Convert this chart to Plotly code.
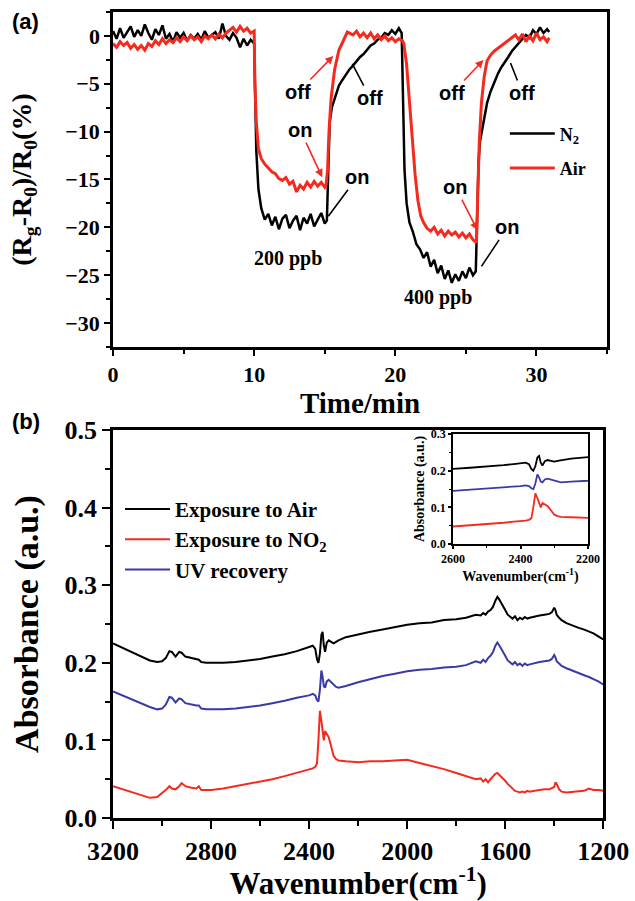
import plotly.graph_objects as go

# ---------------- (a) response vs time ----------------
n2_time = [0, 0.25, 0.5, 0.75, 1, 1.25, 1.5, 1.75, 2, 2.25, 2.5, 2.75, 3, 3.25, 3.5, 3.75, 4, 4.25, 4.5, 4.75,
           5, 5.25, 5.5, 5.75, 6, 6.25, 6.5, 6.75, 7, 7.25, 7.5, 7.75, 8, 8.25, 8.5, 8.75, 9, 9.25, 9.5, 9.75, 10,
           10.05, 10.15, 10.3, 10.5, 10.75, 11, 11.25, 11.5, 11.75, 12, 12.25, 12.5, 12.75, 13, 13.25, 13.5, 13.75,
           14, 14.25, 14.5, 14.75, 15, 15.15,
           15.25, 15.35, 15.5, 15.75, 16, 16.25, 16.5, 16.75, 17, 17.25, 17.5, 17.75, 18, 18.25, 18.5, 18.75, 19,
           19.25, 19.5, 19.75, 20, 20.25, 20.45,
           20.55, 20.65, 20.8, 21, 21.25, 21.5, 21.75, 22, 22.25, 22.5, 22.75, 23, 23.25, 23.5, 23.75, 24, 24.25,
           24.5, 24.75, 25, 25.25, 25.5, 25.7,
           25.8, 25.9, 26, 26.25, 26.5, 26.75, 27, 27.25, 27.5, 27.75, 28, 28.25, 28.5, 28.75, 29, 29.25, 29.5,
           29.75, 30, 30.25, 30.5, 30.75, 30.9]
n2_resp = [0.5, -0.3, 0.8, -0.2, 0.4, 1.0, -0.1, 0.6, 0.0, 1.2, 0.3, -0.4, 0.7, 0.1, 1.1, -0.3, 0.2, -0.6, 0.4, -0.2,
           0.3, -0.5, 0.1, -0.3, 0.2, -0.4, 0.5, -0.2, 0.1, 0.4, -0.3, 1.3, 0.0, -0.4, 0.3, -0.2, -1.2, -0.3, -1.0, -0.4, -0.8,
           -6, -12, -16, -18, -19.2, -18.6, -19.8, -18.9, -20.2, -19.1, -18.7, -20.1, -19.3, -18.8, -20.3, -19.0, -19.6,
           -18.6, -19.9, -19.2, -18.5, -19.6, -19.3,
           -14, -9, -7.5, -6.3, -5.2, -4.6, -4.0, -3.5, -3.1, -2.6, -2.2, -1.9, -1.5, -1.0, -0.8, -0.4, -0.2,
           0.3, 0.1, 0.6, 0.2, 0.8, 0.3,
           -8, -14, -17.5, -19.5, -20.5, -21.8, -22.3, -23.2, -22.6, -24.1, -23.4, -24.8, -24.0, -25.4, -24.5, -25.8, -24.9,
           -25.6, -24.6, -25.3, -24.2, -25.0, -24.6,
           -17, -13, -11, -9, -7, -5.8, -4.8, -4.0, -3.3, -2.8, -2.2, -1.6, -1.2, -0.8, -0.4, 0.1, -0.2,
           0.6, 0.2, 0.9, 0.3, 0.7, 0.4]

air_time = [0, 0.25, 0.5, 0.75, 1, 1.25, 1.5, 1.75, 2, 2.25, 2.5, 2.75, 3, 3.25, 3.5, 3.75, 4, 4.25, 4.5, 4.75,
            5, 5.25, 5.5, 5.75, 6, 6.25, 6.5, 6.75, 7, 7.25, 7.5, 7.75, 8, 8.25, 8.5, 8.75, 9, 9.25, 9.5, 9.75, 10,
            10.05, 10.15, 10.3, 10.5, 10.75, 11, 11.25, 11.5, 11.75, 12, 12.25, 12.5, 12.75, 13, 13.25, 13.5, 13.75,
            14, 14.25, 14.5, 14.75, 15, 15.1,
            15.2, 15.3, 15.45, 15.7, 16, 16.3, 16.6, 17, 17.25, 17.5, 17.75, 18, 18.25, 18.5, 18.75, 19, 19.25,
            19.5, 19.75, 20, 20.25, 20.5,
            20.6, 20.8, 21, 21.2, 21.4, 21.6, 21.8, 22, 22.25, 22.5, 22.75, 23, 23.25, 23.5, 23.75, 24, 24.25,
            24.5, 24.75, 25, 25.25, 25.5, 25.75,
            25.85, 25.95, 26.1, 26.3, 26.5, 26.75, 27, 27.25, 27.5, 27.75, 28, 28.25, 28.5, 28.75, 29, 29.25, 29.5,
            29.75, 30, 30.25, 30.5, 30.75, 30.9]
air_resp = [-0.8, -1.2, -0.6, -1.0, -0.7, -1.3, -0.9, -1.4, -1.0, -1.5, -0.8, -1.1, -0.5, -0.9, -0.3, -0.8, -0.4, -0.7, -0.2, -0.6,
            -0.1, -0.5, 0.0, -0.4, -0.1, -0.6, 0.0, -0.3, 0.1, -0.3, 0.2, -0.2, 0.3, 0.6, 0.9, 0.4, 1.0, 0.5, 0.8, 0.3, 0.5,
            -5, -9, -11.8, -12.8, -13.4, -13.8, -14.2, -14.4, -14.9, -15.1, -14.8, -15.5, -15.2, -16.3, -15.6, -16.0, -15.3,
            -15.8, -15.2, -15.7, -15.3, -15.8, -15.5,
            -14, -10, -6.5, -3.5, -1.5, -0.5, 0.4, 0.1, 0.5, -0.1, 0.3, -0.2, 0.3, -0.3, 0.1, -0.4, 0.0,
            -0.5, -0.2, -0.6, -0.3, -0.5,
            -0.8, -3, -7, -11, -14.5, -17.2, -18.8, -19.5, -20.1, -20.4, -20.0, -20.7, -20.3, -20.9, -20.4, -20.8, -20.5,
            -21.0, -20.6, -21.1, -20.7, -21.3, -21.6,
            -16, -11, -7, -4.2, -2.6, -2.0, -1.6, -1.3, -1.1, -0.8, -0.5, -0.2, 0.1, -0.4, 0.2, -0.6, 0.0,
            -0.5, 0.3, -0.4, -0.1, -0.6, -0.2]

# ---------------- (b) FTIR spectra ----------------
wavenumber = [3200, 3150, 3100, 3050, 3020, 3000, 2985, 2970, 2960, 2945,
              2930, 2920, 2905, 2880, 2860, 2850, 2840, 2820, 2800, 2750,
              2700, 2650, 2600, 2550, 2500, 2450, 2420, 2400, 2385, 2375,
              2368, 2362, 2356, 2350, 2345, 2340, 2335, 2328, 2320, 2310,
              2300, 2290, 2280, 2250, 2200, 2150, 2100, 2050, 2000, 1950,
              1900, 1850, 1800, 1760, 1740, 1720, 1700, 1690, 1680, 1670,
              1660, 1650, 1640, 1632, 1625, 1615, 1600, 1590, 1580, 1570,
              1560, 1550, 1540, 1530, 1520, 1510, 1500, 1480, 1460, 1440,
              1420, 1410, 1400, 1395, 1390, 1380, 1370, 1350, 1320, 1300,
              1280, 1270, 1260, 1250, 1240, 1220, 1200]
abs_air = [.225, .218, .210, .203, .201, .202, .206, .215, .214, .208,
           .214, .213, .208, .206, .205, .204, .201, .200, .200, .200,
           .201, .203, .205, .208, .211, .215, .218, .220, .222, .218,
           .205, .200, .212, .236, .240, .222, .214, .226, .229, .227,
           .225, .227, .229, .233, .237, .240, .243, .246, .249, .251,
           .252, .255, .256, .258, .260, .262, .261, .264, .262, .266,
           .268, .272, .280, .285, .282, .277, .268, .262, .259, .257,
           .260, .255, .258, .256, .259, .257, .258, .260, .261, .262,
           .263, .265, .271, .268, .262, .258, .255, .251, .247, .245,
           .243, .242, .241, .240, .238, .234, .230]
abs_no2 = [.041, .036, .030, .026, .027, .032, .036, .041, .038, .037,
           .041, .045, .041, .039, .038, .041, .036, .036, .036, .038,
           .041, .044, .047, .050, .054, .058, .061, .062, .064, .066,
           .070, .100, .138, .125, .110, .100, .112, .108, .104, .092,
           .080, .076, .074, .073, .072, .073, .073, .074, .075, .071,
           .067, .063, .058, .054, .053, .050, .051, .047, .050, .046,
           .050, .054, .057, .058, .056, .053, .048, .044, .041, .038,
           .035, .034, .033, .034, .033, .035, .034, .035, .036, .037,
           .037, .038, .040, .046, .044, .037, .034, .033, .034, .034,
           .035, .036, .038, .037, .036, .036, .035]
abs_uv = [.163, .156, .149, .143, .140, .141, .146, .156, .155, .149,
          .154, .153, .148, .146, .145, .145, .141, .140, .140, .140,
          .141, .143, .145, .148, .151, .155, .157, .158, .160, .158,
          .152, .150, .165, .190, .182, .170, .168, .176, .178, .175,
          .172, .169, .168, .170, .175, .179, .183, .186, .189, .191,
          .192, .194, .195, .197, .199, .202, .200, .204, .201, .206,
          .209, .214, .222, .226, .223, .218, .209, .203, .200, .198,
          .201, .197, .199, .196, .199, .197, .198, .200, .201, .202,
          .203, .205, .210, .207, .202, .199, .196, .193, .189, .186,
          .184, .183, .182, .180, .179, .176, .172]

RED = "#f52a1f"
BLUE = "#3a3aa6"
SERIF = "Liberation Serif"
SANS = "Liberation Sans"

fig = go.Figure()
fig.add_trace(go.Scatter(x=n2_time, y=n2_resp, mode="lines", name="N<sub>2</sub>",
                         line=dict(color="black", width=2.5), xaxis="x", yaxis="y",
                         legend="legend", legendgroup="n2"))
fig.add_trace(go.Scatter(x=air_time, y=air_resp, mode="lines", name="Air",
                         line=dict(color=RED, width=3), xaxis="x", yaxis="y",
                         legend="legend", legendgroup="air"))

series_b = [("Exposure to Air", abs_air, "black"),
            ("Exposure to NO<sub>2</sub>", abs_no2, RED),
            ("UV recovery", abs_uv, BLUE)]
for i, (nm, vals, col) in enumerate(series_b):
    fig.add_trace(go.Scatter(x=wavenumber, y=vals, mode="lines", name=nm,
                             line=dict(color=col, width=2), xaxis="x2", yaxis="y2",
                             legend="legend2", legendgroup="b%d" % i))
for nm, vals, col in series_b:
    fig.add_trace(go.Scatter(x=wavenumber, y=vals, mode="lines", name=nm, showlegend=False,
                             line=dict(color=col, width=1.8), xaxis="x3", yaxis="y3"))

def tf(size):
    return dict(family=SERIF, size=size, color="black", weight="bold")

common = dict(showline=True, linecolor="black", mirror=True, showgrid=False, zeroline=False,
              ticks="outside", tickcolor="black", automargin=False)

fig.update_layout(
    width=635, height=901, autosize=False,
    margin=dict(l=0, r=0, t=0, b=0),
    paper_bgcolor="white", plot_bgcolor="white",
    xaxis=dict(domain=[0.178, 0.956], anchor="y", range=[0, 35], tick0=0, dtick=10,
               ticklen=6, tickwidth=2, linewidth=2.5, tickfont=tf(22),
               minor=dict(dtick=5, ticks="outside", ticklen=4, tickwidth=2, tickcolor="black"),
               title=dict(text="Time/min", font=tf(29), standoff=6), **common),
    yaxis=dict(domain=[0.6149, 0.9867], anchor="x", range=[-32.5, 2.5], tick0=0, dtick=5,
               ticklen=6, tickwidth=2, linewidth=2.5, tickfont=tf(22),
               minor=dict(dtick=2.5, ticks="outside", ticklen=4, tickwidth=2, tickcolor="black"),
               title=dict(text="(R<sub>g</sub>-R<sub>0</sub>)/R<sub>0</sub>(%)", font=tf(28), standoff=26), **common),
    xaxis2=dict(domain=[0.178, 0.950], anchor="y2", range=[3200, 1200], tick0=1200, dtick=400,
                ticklen=8, tickwidth=2, linewidth=2.5, tickfont=tf(26),
                minor=dict(dtick=200, ticks="outside", ticklen=5, tickwidth=2, tickcolor="black"),
                title=dict(text="Wavenumber(cm<sup>-1</sup>)", font=tf(31), standoff=6), **common),
    yaxis2=dict(domain=[0.0921, 0.5228], anchor="x2", range=[0, 0.5], tick0=0, dtick=0.1, tickformat=".1f",
                ticklen=8, tickwidth=2, linewidth=2.5, tickfont=tf(26),
                minor=dict(dtick=0.05, ticks="outside", ticklen=5, tickwidth=2, tickcolor="black"),
                title=dict(text="Absorbance (a.u.)", font=tf(34), standoff=16), **common),
    xaxis3=dict(domain=[0.7134, 0.926], anchor="y3", range=[2600, 2200], tick0=2200, dtick=200,
                ticklen=3, tickwidth=1.5, linewidth=1.5, tickfont=tf(12),
                minor=dict(dtick=100, ticks="outside", ticklen=2, tickwidth=1, tickcolor="black"),
                title=dict(text="Wavenumber(cm<sup>-1</sup>)", font=tf(14), standoff=0), **common),
    yaxis3=dict(domain=[0.3962, 0.5183], anchor="x3", range=[0, 0.3], tick0=0, dtick=0.1, tickformat=".1f",
                ticklen=3, tickwidth=1.5, linewidth=1.5, tickfont=tf(12),
                minor=dict(dtick=0.05, ticks="outside", ticklen=2, tickwidth=1, tickcolor="black"),
                title=dict(text="Absorbance (a.u.)", font=tf(14), standoff=3), **common),
    legend=dict(x=0.795, y=0.872, xanchor="left", yanchor="top", bgcolor="rgba(0,0,0,0)",
                font=tf(18), tracegroupgap=8, itemwidth=45),
    legend2=dict(x=0.189, y=0.4575, xanchor="left", yanchor="top", bgcolor="rgba(0,0,0,0)",
                 font=tf(21), tracegroupgap=0, itemwidth=45),
)

ann = []
# panel labels
ann.append(dict(text="(a)", x=25/635, y=1-22/901, xref="paper", yref="paper", showarrow=False,
                xanchor="center", yanchor="middle",
                font=dict(family=SANS, size=22, color="black", weight="bold")))
ann.append(dict(text="(b)", x=26/635, y=1-421/901, xref="paper", yref="paper", showarrow=False,
                xanchor="center", yanchor="middle",
                font=dict(family=SANS, size=22, color="black", weight="bold")))
# concentration labels
ann.append(dict(text="200 ppb", x=12.41, y=-23.25, xref="x", yref="y", showarrow=False, font=tf(20)))
ann.append(dict(text="400 ppb", x=23.05, y=-27.33, xref="x", yref="y", showarrow=False, font=tf(20)))

# on/off labels with arrows: (text, label_x, label_y, tip_x, tip_y, colour)
onoff = [("off", 13.12, -5.86, 15.60, -2.09, RED),
         ("on", 13.26, -9.84, 14.82, -14.76, RED),
         ("off", 18.23, -6.49, 16.95, -2.93, "black"),
         ("on", 17.30, -14.76, 15.25, -18.85, "black"),
         ("off", 24.04, -5.97, 26.24, -2.51, RED),
         ("off", 29.00, -5.97, 28.16, -2.83, "black"),
         ("on", 24.26, -15.81, 25.82, -20.31, RED),
         ("on", 27.94, -20.00, 26.10, -24.08, "black")]
for txt, lx, ly, tx, ty, col in onoff:
    ann.append(dict(text=txt, x=tx, y=ty, ax=lx, ay=ly, xref="x", yref="y", axref="x", ayref="y",
                    showarrow=True, arrowcolor=col, arrowwidth=1.6,
                    arrowhead=2 if col == RED else 0, arrowsize=1,
                    font=dict(family=SANS, size=20, color="black", weight="bold")))
fig.update_layout(annotations=ann)

fig.write_html("out.html", config={"displayModeBar": False},
               post_script="document.body.style.margin='0';")
